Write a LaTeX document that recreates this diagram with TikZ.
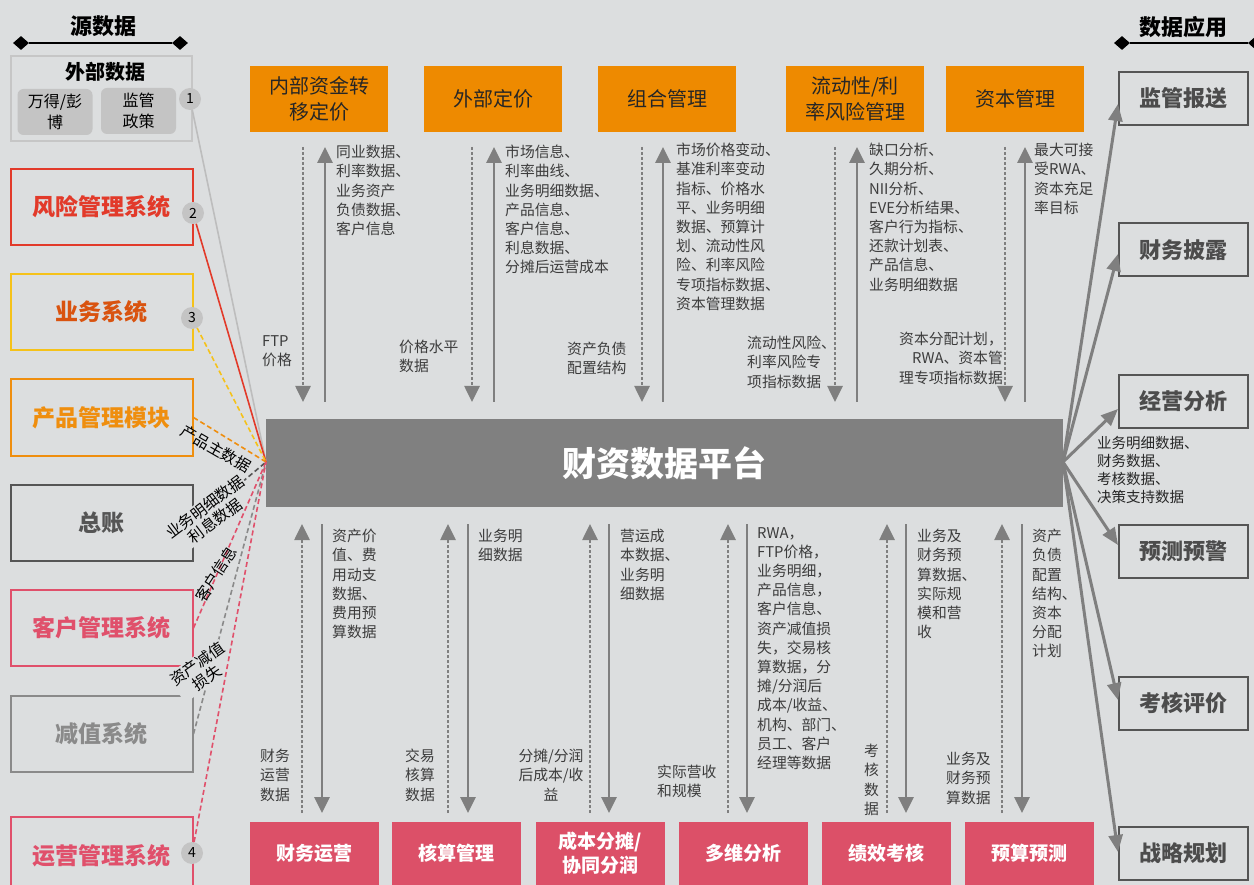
\documentclass[tikz,border=0pt]{standalone}
\usepackage{fontspec}
\setmainfont{Noto Sans CJK SC}
\usetikzlibrary{arrows.meta,shapes.geometric,calc}
\definecolor{bgC}{HTML}{DCDEDF}
\definecolor{oraF}{HTML}{EE8A00}
\definecolor{pinkF}{HTML}{DC5068}
\definecolor{platC}{HTML}{808080}
\definecolor{arrC}{HTML}{7F7F7F}
\definecolor{labC}{HTML}{3C3C3C}
\definecolor{redC}{HTML}{E23A2A}
\definecolor{yelC}{HTML}{F5C21A}
\definecolor{bizC}{HTML}{D9530F}
\definecolor{oraC}{HTML}{EF8E0E}
\definecolor{dgC}{HTML}{555555}
\definecolor{pinkC}{HTML}{E0506B}
\definecolor{mgC}{HTML}{8A8A8A}
\definecolor{extC}{HTML}{C6C6C6}
\definecolor{subC}{HTML}{C4C4C4}
\definecolor{lgL}{HTML}{BDBDBD}
\tikzset{
  srcbox/.style={draw=#1, line width=2pt, minimum width=182pt, minimum height=76pt, inner sep=0pt},
  srctext/.style={font=\fontsize{23}{26}\selectfont\bfseries},
  subbox/.style={fill=subC, rounded corners=6pt, minimum width=75pt, minimum height=46pt, inner sep=0pt, align=center, font=\fontsize{16}{21}\selectfont},
  numc/.style={circle, fill=subC, minimum size=22pt, inner sep=0pt, font=\fontsize{14}{14}\selectfont},
  dia/.style={diamond, fill=black, inner sep=0pt, minimum width=16pt, minimum height=14pt},
  topbox/.style={fill=oraF, minimum width=138pt, minimum height=66pt, inner sep=0pt, align=center, font=\fontsize{20}{26}\selectfont, text=black!85},
  botbox/.style={fill=pinkF, minimum width=129pt, minimum height=63pt, inner sep=0pt, align=center, font=\fontsize{19}{24}\selectfont\bfseries, text=white},
  appbox/.style={draw=dgC, line width=2pt, minimum width=129pt, minimum height=53pt, inner sep=0pt, font=\fontsize{22}{26}\selectfont\bfseries, text=dgC!90!black},
  lab/.style={font=\fontsize{14.8}{19.2}\selectfont, text=labC, align=left, inner sep=0pt, anchor=north west},
  labr/.style={font=\fontsize{14.8}{19.2}\selectfont, text=labC, align=right, inner sep=0pt, anchor=north east},
  labc/.style={font=\fontsize{14.8}{19.2}\selectfont, text=labC, align=center, inner sep=0pt, anchor=north},
  rlab/.style={font=\fontsize{15.5}{17}\selectfont, text=black, inner sep=1pt, fill=bgC, align=center},
  solA/.style={draw=arrC, line width=2.8pt, -{Triangle[width=15pt,length=16pt]}},
  dotA/.style={draw=arrC, line width=2.6pt, dash pattern=on 2.6pt off 2.4pt, -{Triangle[width=15pt,length=16pt]}},
  appA/.style={draw=arrC, line width=3pt, -{Triangle[width=14pt,length=17pt]}},
  conn/.style={line width=1.6pt},
  dconn/.style={line width=1.6pt, dash pattern=on 5pt off 3pt},
}
\begin{document}
\begin{tikzpicture}[x=1pt,y=-1pt]
\fill[bgC] (0,0) rectangle (1254,885);
\useasboundingbox (0,0) rectangle (1254,885);

% ---------- titles ----------
\node[font=\fontsize{22}{26}\selectfont\bfseries] (srcT) at (103,26) {源数据};
\node[dia] (d1) at (21,43) {};
\node[dia] (d2) at (180,43) {};
\draw[line width=2.5pt] (d1) -- (d2);
\node[font=\fontsize{22}{26}\selectfont\bfseries] (appT) at (1183,27) {数据应用};
\node[dia] (d3) at (1122,43) {};
\node[dia] (d4) at (1256,43) {};
\draw[line width=2.5pt] (d3) -- (d4);

% ---------- external data ----------
\node[draw=extC, line width=2pt, minimum width=181pt, minimum height=85pt, inner sep=0pt] (ext) at (101,98.5) {};
\node[font=\fontsize{20}{24}\selectfont\bfseries] (extT) at (105,72) {外部数据};
\node[subbox] (wind) at (55,112) {万得/彭\\博};
\node[subbox] (reg) at (138.5,111) {监管\\政策};

% ---------- source systems ----------
\node[srcbox=redC, srctext, text=redC] (risk) at (101.5,207) {风险管理系统};
\node[srcbox=yelC, srctext, text=bizC] (biz) at (101.5,312) {业务系统};
\node[srcbox=oraC, srctext, text=oraC] (prod) at (101.5,417.5) {产品管理模块};
\node[srcbox=dgC, srctext, text=dgC] (gl) at (101.5,523) {总账};
\node[srcbox=pinkC, srctext, text=pinkC] (cust) at (101.5,628) {客户管理系统};
\node[srcbox=mgC, srctext, text=mgC] (imp) at (101.5,734) {减值系统};
\node[srcbox=pinkC, minimum height=80pt] (ops) at (101.5,857) {};
\node[srctext, text=pinkC] (opsT) at (101.5,856) {运营管理系统};

\node[numc] (c1) at (190,99) {1};
\node[numc] (c2) at (193,213) {2};
\node[numc] (c3) at (192,318) {3};
\node[numc] (c4) at (192,853) {4};

% ---------- platform ----------
\node[fill=platC, minimum width=797pt, minimum height=88pt, inner sep=0pt, text=white, font=\fontsize{34}{40}\selectfont\bfseries] (plat) at (664.5,463) {财资数据平台};
\coordinate (hub) at (266,462);

% ---------- left connectors ----------
\draw[conn, lgL] (c1) -- (hub);
\draw[conn, redC] (c2) -- (hub);
\draw[dconn, yelC] (c3) -- (hub);
\draw[dconn, oraC] (prod.east) -- (hub);
\draw[dconn, dgC] (gl.east) -- (hub);
\node[rlab, rotate=37] (lgl) at (210,514) {业务明细数据\\利息数据};
\draw[dconn, mgC] (imp.east) -- (hub);
\node[rlab, rotate=35] (limp) at (202,671) {资产减值\\损失};
\draw[dconn, pinkC] (cust.east) -- (hub);
\node[rlab, rotate=57, fill=none] (lcust) at (216,574) {客户信息};
\draw[dconn, pinkC] (c4) -- (hub);
\node[font=\fontsize{15.5}{17}\selectfont, inner sep=1pt, rotate=-30] (lprod) at (216,449) {产品主数据};

% ---------- top boxes ----------
\node[topbox] (ftp) at (319,99) {内部资金转\\移定价};
\node[topbox] (ext2) at (493,99) {外部定价};
\node[topbox] (port) at (667,99) {组合管理};
\node[topbox] (liq) at (855,99) {流动性/利\\率风险管理};
\node[topbox] (cap) at (1015,99) {资本管理};

% top arrows
\foreach \d/\s/\n in {303/325/1, 472/494/2, 642/663/3, 835/857/4, 1005/1025/5}{
  \coordinate (td\n t) at (\d,147);
  \coordinate (td\n b) at (\d,402);
  \coordinate (ts\n t) at (\s,147);
  \coordinate (ts\n b) at (\s,402);
  \draw[dotA] (td\n t) -- (td\n b);
  \draw[solA] (ts\n b) -- (ts\n t);
}

\node[lab] (t1) at (336,145) {同业数据、\\利率数据、\\业务资产\\负债数据、\\客户信息};
\node[lab] (t1b) at (262,335) {FTP\\价格};
\node[lab] (t2) at (505,145) {市场信息、\\利率曲线、\\业务明细数据、\\产品信息、\\客户信息、\\利息数据、\\分摊后运营成本};
\node[lab] (t2b) at (399,340) {价格水平\\数据};
\node[lab] (t3) at (676,143) {市场价格变动、\\基准利率变动\\指标、价格水\\平、业务明细\\数据、预算计\\划、流动性风\\险、利率风险\\专项指标数据、\\资本管理数据};
\node[lab] (t3b) at (567,342) {资产负债\\配置结构};
\node[lab] (t4) at (869,143) {缺口分析、\\久期分析、\\NII分析、\\EVE分析结果、\\客户行为指标、\\还款计划表、\\产品信息、\\业务明细数据};
\node[lab] (t4b) at (747,336) {流动性风险、\\利率风险专\\项指标数据};
\node[lab] (t5) at (1034,143) {最大可接\\受RWA、\\资本充足\\率目标};
\node[labr] (t5b) at (1003,332) {资本分配计划，\\RWA、资本管\\理专项指标数据};

% ---------- bottom boxes ----------
\node[botbox] (fo) at (314.5,853.5) {财务运营};
\node[botbox] (acc) at (456.5,853.5) {核算管理};
\node[botbox] (cost) at (600.5,853.5) {成本分摊/\\协同分润};
\node[botbox] (mda) at (743.5,853.5) {多维分析};
\node[botbox] (perf) at (886.5,853.5) {绩效考核};
\node[botbox] (bud) at (1029.5,853.5) {预算预测};

\foreach \d/\s/\n in {302/322/1, 448/468/2, 590/609/3, 728/747/4, 887/906/5, 1002/1022/6}{
  \coordinate (bd\n t) at (\d,524);
  \coordinate (bd\n b) at (\d,813);
  \coordinate (bs\n t) at (\s,524);
  \coordinate (bs\n b) at (\s,813);
  \draw[dotA] (bd\n b) -- (bd\n t);
  \draw[solA] (bs\n t) -- (bs\n b);
}

\node[lab] (b1) at (332,529) {资产价\\值、费\\用动支\\数据、\\费用预\\算数据};
\node[lab] (b1b) at (260,749) {财务\\运营\\数据};
\node[lab] (b2) at (478,529) {业务明\\细数据};
\node[lab] (b2b) at (405,749) {交易\\核算\\数据};
\node[lab] (b3) at (620,529) {营运成\\本数据、\\业务明\\细数据};
\node[labc] (b3b) at (551,749) {分摊/分润\\后成本/收\\益};
\node[lab] (b4) at (757,527) {RWA，\\FTP价格，\\业务明细，\\产品信息，\\客户信息、\\资产减值损\\失，交易核\\算数据，分\\摊/分润后\\成本/收益、\\机构、部门、\\员工、客户\\经理等数据};
\node[lab] (b4b) at (657,765) {实际营收\\和规模};
\node[lab] (b5) at (917,529) {业务及\\财务预\\算数据、\\实际规\\模和营\\收};
\node[lab] (b5b) at (864,744) {考\\核\\数\\据};
\node[lab] (b6) at (1032,529) {资产\\负债\\配置\\结构、\\资本\\分配\\计划};
\node[lab] (b6b) at (946,752) {业务及\\财务预\\算数据};

% ---------- applications ----------
\node[appbox] (a1) at (1183.5,98.5) {监管报送};
\node[appbox] (a2) at (1183.5,250) {财务披露};
\node[appbox] (a3) at (1183.5,401.5) {经营分析};
\node[appbox] (a4) at (1183.5,551.5) {预测预警};
\node[appbox] (a5) at (1183.5,703) {考核评价};
\node[appbox] (a6) at (1183.5,853.5) {战略规划};
\coordinate (out) at (1063,462);
\draw[appA] (out) -- ([yshift=-5.5pt]a1.west);
\draw[appA] (out) -- ([yshift=-4pt]a2.west);
\draw[appA] (out) -- ([yshift=-7.5pt]a3.west);
\draw[appA] (out) -- ([yshift=6.5pt]a4.west);
\draw[appA] (out) -- ([yshift=3pt]a5.west);
\draw[appA] (out) -- ([yshift=1.5pt]a6.west);
\node[font=\fontsize{14.5}{18}\selectfont, text=black!85, align=left, inner sep=0pt, anchor=north west] (rl) at (1097,436) {业务明细数据、\\财务数据、\\考核数据、\\决策支持数据};
\end{tikzpicture}
\end{document}
